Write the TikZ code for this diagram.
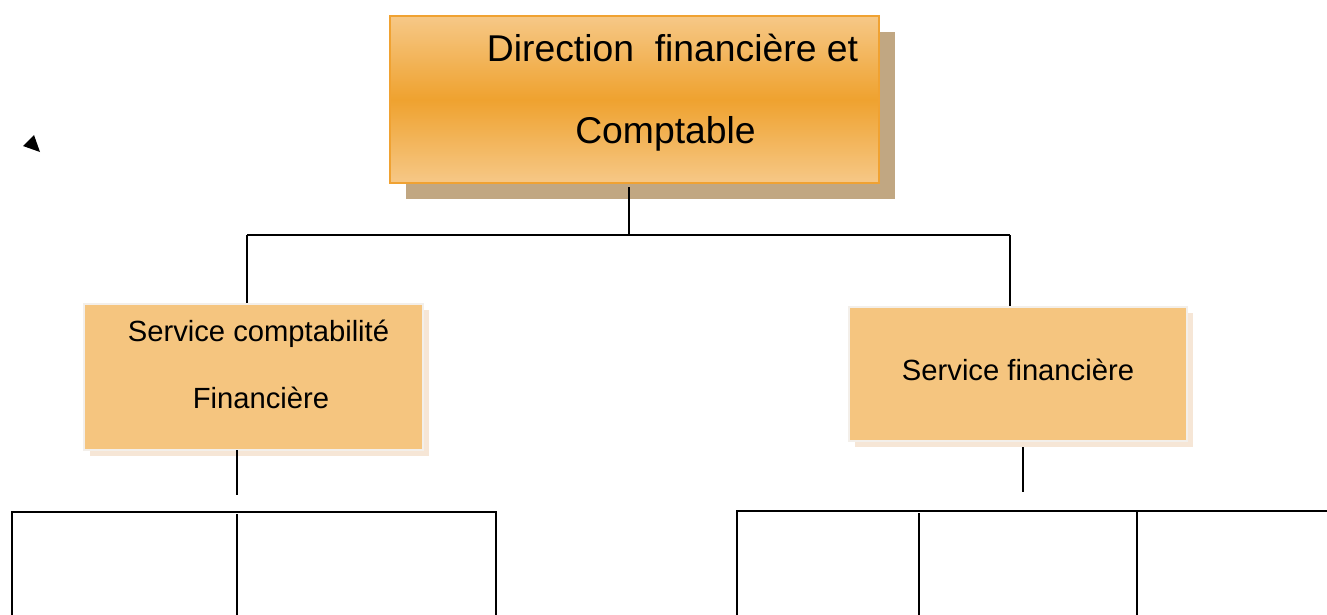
\documentclass[tikz,border=0pt]{standalone}
\usepackage{fontspec}
\setmainfont{Liberation Sans}
\usetikzlibrary{shadows}
\definecolor{topborder}{HTML}{F0A232}
\definecolor{toplight}{HTML}{F6C887}
\definecolor{topdark}{HTML}{EFA22F}
\definecolor{topshadow}{HTML}{C1A782}
\definecolor{svcfill}{HTML}{F5C57F}
\definecolor{svcborder}{HTML}{F3EFEA}
\definecolor{svcshadow}{HTML}{F6E6D6}
\tikzset{
  conn/.style={draw=black, line width=1.7pt},
  topbox/.style={rectangle, draw=topborder, line width=2pt,
    top color=toplight, bottom color=toplight, middle color=topdark,
    drop shadow={shadow xshift=16pt, shadow yshift=-16pt, fill=topshadow, opacity=1},
    minimum width=489pt, minimum height=167pt, inner sep=0pt},
  svcbox/.style={rectangle, draw=svcborder, line width=2.5pt, fill=svcfill,
    drop shadow={shadow xshift=6pt, shadow yshift=-6pt, fill=svcshadow, opacity=1},
    inner sep=0pt},
  bigtxt/.style={anchor=base, font=\fontsize{37.3}{42}\selectfont, inner sep=0pt},
  smalltxt/.style={anchor=base, font=\fontsize{29.2}{34}\selectfont, inner sep=0pt}
}
\begin{document}
\begin{tikzpicture}[x=1pt,y=-1pt]
\useasboundingbox (0,0) rectangle (1327,615);
% boxes
\node[topbox] (top) at (634.5,99.5) {};
\node[bigtxt] (topl1) at (672.5,62) {Direction\ \ financière et};
\node[bigtxt] (topl2) at (665.5,143) {Comptable};

\node[svcbox, minimum width=339pt, minimum height=146pt] (svcL) at (253.5,377) {};
\node[smalltxt] (svcLl1) at (258.5,341) {Service comptabilité};
\node[smalltxt] (svcLl2) at (261,408) {Financière};

\node[svcbox, minimum width=338pt, minimum height=134pt] (svcR) at (1018,374) {};
\node[smalltxt] (svcRl1) at (1018,380) {Service financière};

% junction coordinates
\coordinate (t0) at (629,187);
\coordinate (j0) at (629,235);
\coordinate (jl) at (247,235);
\coordinate (jr) at (1010,235);

\draw[conn] (t0) -- (j0);
\draw[conn] (jl) -- (jr);
\draw[conn] (jl) -- (jl |- svcL.north);
\draw[conn] (jr) -- (jr |- svcR.north);

% left lower tree
\coordinate (lb0) at (237,450);
\coordinate (lb1) at (237,495);
\coordinate (la) at (12,512);
\coordinate (lc) at (496,512);
\coordinate (lm) at (237,514);
\coordinate (la2) at (12,615);
\coordinate (lc2) at (496,615);
\coordinate (lm2) at (237,615);
\draw[conn] (lb0) -- (lb1);
\draw[conn] (la2) -- (la) -- (lc) -- (lc2);
\draw[conn] (lm) -- (lm2);

% right lower tree
\coordinate (rb0) at (1023,447);
\coordinate (rb1) at (1023,492);
\coordinate (ra) at (737,511);
\coordinate (re) at (1327,511);
\coordinate (ra2) at (737,615);
\coordinate (rm) at (919,513);
\coordinate (rm2) at (919,615);
\coordinate (rn) at (1137,511);
\coordinate (rn2) at (1137,615);
\draw[conn] (rb0) -- (rb1);
\draw[conn] (ra2) -- (ra) -- (re);
\draw[conn] (rm) -- (rm2);
\draw[conn] (rn) -- (rn2);

% small triangle
\fill[black] (23,146) -- (34,135) -- (40,152) -- cycle;
\end{tikzpicture}
\end{document}
